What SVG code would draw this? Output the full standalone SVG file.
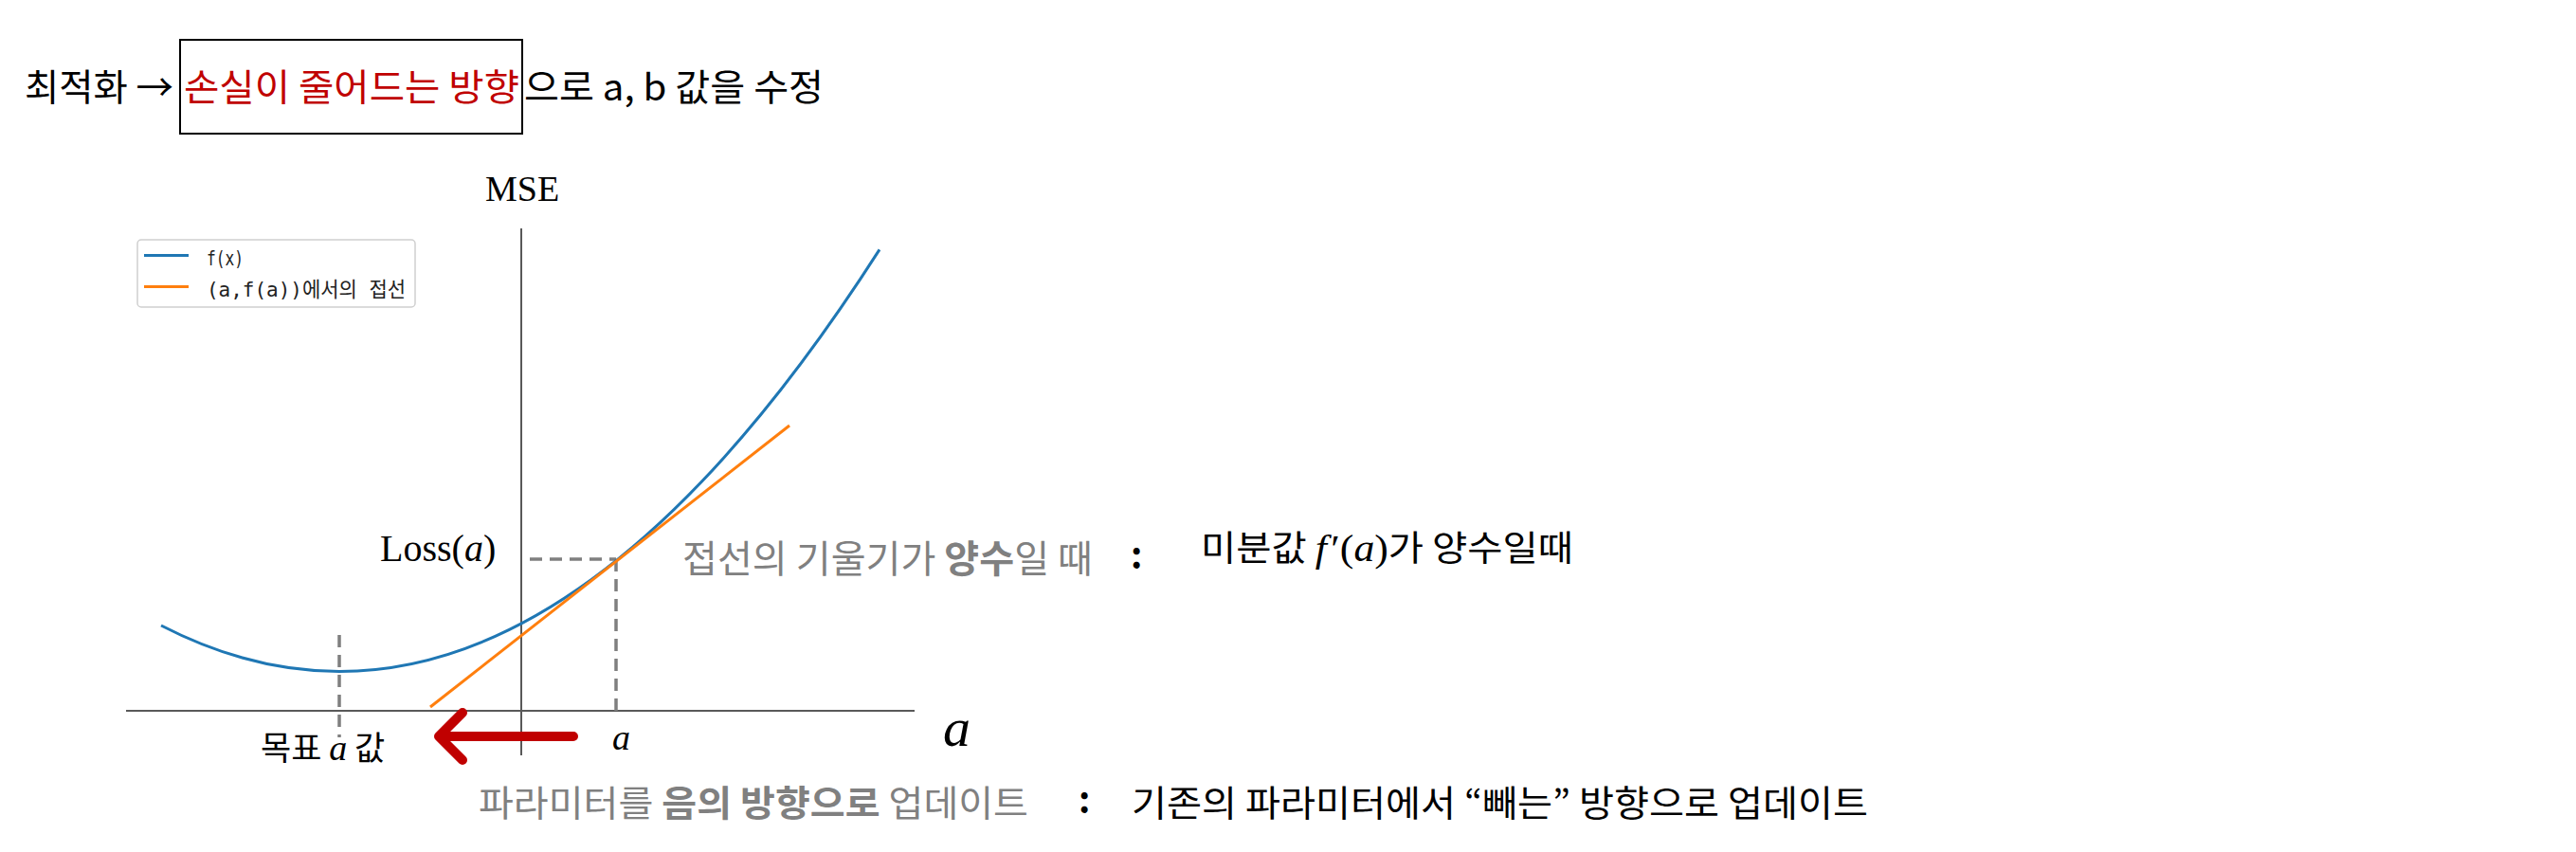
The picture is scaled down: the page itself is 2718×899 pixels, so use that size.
<svg xmlns="http://www.w3.org/2000/svg" width="2718" height="899" viewBox="0 0 2718 899">
<style>
.kr{font-family:"Noto Sans CJK KR","Noto Sans",sans-serif;}
.blk{fill:#000;}
.red{fill:#C00000;}
.gry{fill:#808080;}
.b{font-weight:bold;}
.m{font-family:"Liberation Serif","DejaVu Serif",serif;}
.it{font-style:italic;}
.axis{stroke:#595959;stroke-width:2;fill:none;}
.dash{stroke:#7f7f7f;stroke-width:3.5;stroke-dasharray:13 8;fill:none;}
.lg{font-family:"DejaVu Sans Mono","Noto Sans CJK KR",monospace;font-size:22px;fill:#222;}
</style>
<rect width="2718" height="899" fill="#fff"/>

<g id="title">
<text class="kr blk" x="26" y="106" font-size="39" textLength="157" lengthAdjust="spacingAndGlyphs">최적화 →</text>
<rect x="190" y="42" width="361" height="99" fill="none" stroke="#000" stroke-width="2"/>
<text class="kr red" x="194" y="106" font-size="39" textLength="354" lengthAdjust="spacingAndGlyphs">손실이 줄어드는 방향</text>
<text class="kr blk" x="553" y="106" font-size="39" textLength="316" lengthAdjust="spacingAndGlyphs">으로 a, b 값을 수정</text>
</g>

<g id="chart">
<line class="axis" x1="133" y1="750" x2="965" y2="750"/>
<line class="axis" x1="550" y1="241" x2="550" y2="797"/>
<text class="m" x="512" y="212" font-size="38">MSE</text>
<line class="dash" x1="358" y1="670" x2="358" y2="778"/>
<line class="dash" x1="559" y1="590" x2="650" y2="590"/>
<line class="dash" x1="650" y1="590" x2="650" y2="750"/>
<path d="M170,660 Q549,855.3 928,263.4" fill="none" stroke="#1f77b4" stroke-width="3"/>
<line x1="454" y1="746" x2="833" y2="449" stroke="#ff7f0e" stroke-width="3"/>
</g>

<g id="legend">
<rect x="145" y="253" width="293" height="71" rx="4" fill="#fff" stroke="#d0d0d0" stroke-width="1.5"/>
<line x1="152" y1="269.5" x2="199" y2="269.5" stroke="#1f77b4" stroke-width="3"/>
<line x1="152" y1="302.5" x2="199" y2="302.5" stroke="#ff7f0e" stroke-width="3"/>
<text class="lg" x="218" y="280" textLength="39" lengthAdjust="spacingAndGlyphs">f(x)</text>
<text class="lg" x="218" y="313" textLength="210" lengthAdjust="spacingAndGlyphs">(a,f(a))에서의 접선</text>
</g>

<g id="label-loss">
<text class="m" x="401" y="592" font-size="40">Loss(<tspan class="it">a</tspan>)</text>
</g>
<g id="label-a">
<text class="m it" x="646" y="791" font-size="38">a</text>
</g>
<g id="label-a-axis">
<text class="m it" x="995" y="787" font-size="58">a</text>
</g>
<g id="label-target">
<text class="kr blk" x="275" y="802" font-size="35">목표 <tspan class="m it" font-size="38">a</tspan> 값</text>
</g>

<g id="note-positive">
<text class="kr gry" x="720" y="604" font-size="40" textLength="433" lengthAdjust="spacingAndGlyphs">접선의 기울기가 <tspan class="b">양수</tspan>일 때</text>
<text class="kr blk b" x="1193" y="600" font-size="38">:</text>
<text class="kr blk" x="1267" y="592" font-size="37" textLength="393" lengthAdjust="spacingAndGlyphs">미분값 <tspan class="m it" font-size="40">f</tspan><tspan class="m" font-size="40" dx="4">′(</tspan><tspan class="m it" font-size="40">a</tspan><tspan class="m" font-size="40">)</tspan>가 양수일때</text>
</g>

<g id="note-update">
<text class="kr gry" x="505" y="861" font-size="38" textLength="580" lengthAdjust="spacingAndGlyphs">파라미터를 <tspan class="b">음의 방향으로</tspan> 업데이트</text>
<text class="kr blk b" x="1138" y="858" font-size="38">:</text>
<text class="kr blk" x="1194" y="861" font-size="38" textLength="777" lengthAdjust="spacingAndGlyphs">기존의 파라미터에서 “빼는” 방향으로 업데이트</text>
</g>

<g id="connectors">
<path d="M605,777 H465 M488,752 L463,777 L488,802" fill="none" stroke="#C00000" stroke-width="10" stroke-linecap="round" stroke-linejoin="round"/>
</g>
</svg>
